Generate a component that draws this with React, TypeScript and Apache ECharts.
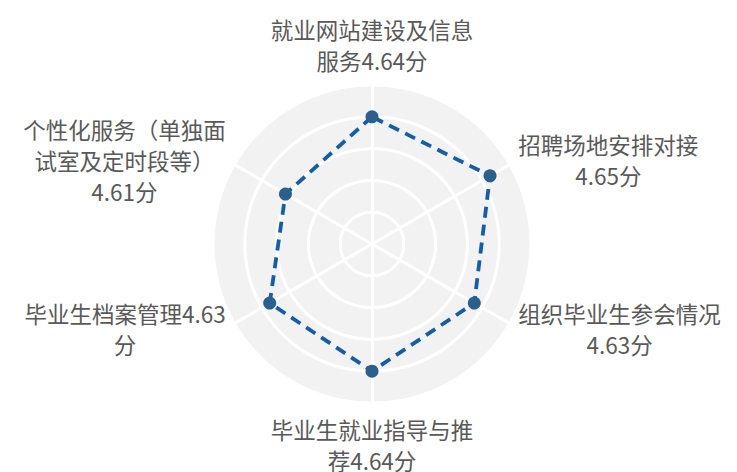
import React, { useEffect, useRef } from "react";
import * as echarts from "echarts";

const indicatorNames = [
  "就业网站建设及信息\n服务4.64分",
  "个性化服务（单独面\n试室及定时段等）\n4.61分",
  "毕业生档案管理4.63\n分",
  "毕业生就业指导与推\n荐4.64分",
  "组织毕业生参会情况\n4.63分",
  "招聘场地安排对接\n4.65分",
];
const scores = [4.64, 4.61, 4.63, 4.64, 4.63, 4.65];
const axisMin = 4.5;
const axisMax = 4.675;

export default function App() {
  const ref = useRef<HTMLDivElement>(null);
  useEffect(() => {
    if (!ref.current) return;
    const chart = echarts.init(ref.current, undefined, { renderer: "svg" });
    const fmt = (name: string) =>
      name
        .split("\n")
        .map((l) => `{c|${l}}`)
        .join("\n");
    chart.setOption({
      animation: false,
      backgroundColor: "#ffffff",
      radar: {
        center: [372, 244],
        radius: 159,
        shape: "circle",
        splitNumber: 5,
        startAngle: 90,
        indicator: indicatorNames.map((n) => ({ name: n, min: axisMin, max: axisMax })),
        axisName: {
          formatter: (name: string) => fmt(name),
          color: "#595959",
          fontSize: 22.5,
          fontFamily: "Noto Sans CJK SC",
          lineHeight: 31,
          rich: {
            c: {
              align: "center",
              color: "#595959",
              fontSize: 22.5,
              lineHeight: 31,
              fontFamily: "Noto Sans CJK SC",
            },
          },
        },
        nameGap: 10,
        splitArea: { show: true, areaStyle: { color: ["#f2f2f2"] } },
        splitLine: { lineStyle: { color: "#ffffff", width: 3 } },
        axisLine: { lineStyle: { color: "#ffffff", width: 3 } },
        axisTick: { show: false },
        axisLabel: { show: false },
      },
      series: [
        {
          type: "radar",
          symbol: "circle",
          symbolSize: 13,
          itemStyle: { color: "#2b5f8c" },
          lineStyle: { color: "#135ea6", width: 3.8, type: [11, 7] },
          data: [{ value: scores }],
        },
      ],
    });
    return () => chart.dispose();
  }, []);
  return (
    <div
      ref={ref}
      style={{ position: "fixed", left: 0, top: 0, width: 737, height: 472 }}
    />
  );
}
